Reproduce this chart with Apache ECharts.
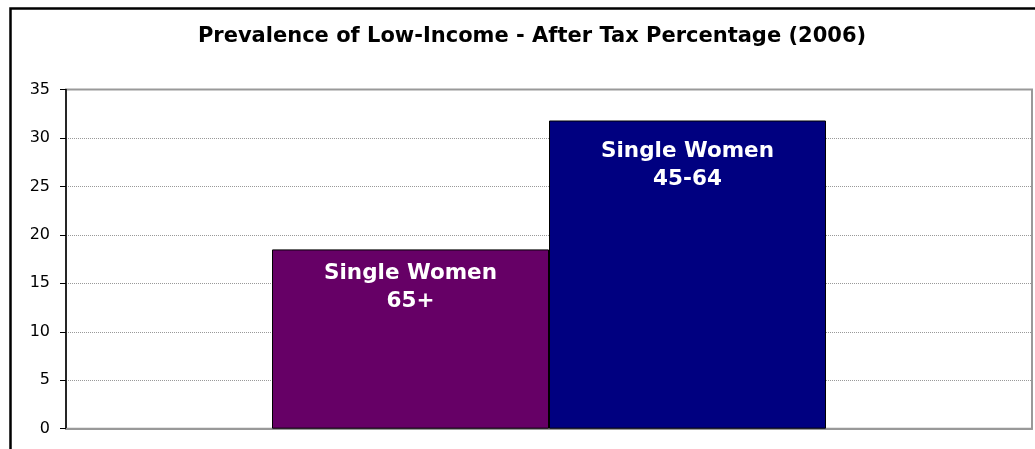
<!DOCTYPE html>
<html>
<head>
<meta charset="utf-8">
<script src="https://cdn.jsdelivr.net/npm/echarts@6/dist/echarts.min.js"></script>
<style>html,body{margin:0;padding:0;background:#fff;}#c{width:1035px;height:449px;}</style>
</head>
<body>
<div id="c"></div>
<script>
const titleText = 'Prevalence of Low-Income - After Tax Percentage (2006)';
const categories = [''];
const seriesNames = ['Single Women\n65+', 'Single Women\n45-64'];
const values65 = [18.5];
const values4564 = [31.8];
const yTicks = { min: 0, max: 35, interval: 5 };

const chart = echarts.init(document.getElementById('c'), null, { renderer: 'canvas' });
const labelBase = {
  show: true,
  position: 'insideTop',
  color: '#fff',
  fontFamily: 'DejaVu Sans',
  fontWeight: 'bold',
  fontSize: 21.5,
  lineHeight: 28,
  formatter: p => p.seriesName
};
chart.setOption({
  animation: false,
  backgroundColor: '#fff',
  title: {
    text: titleText,
    left: 527, top: 21, textAlign: 'center',
    textStyle: { fontFamily: 'DejaVu Sans', fontWeight: 'bold', fontSize: 21, color: '#000' }
  },
  graphic: [{
    type: 'rect', silent: true, z: -1,
    shape: { x: 10.5, y: 8.5, width: 1100, height: 500 },
    style: { fill: 'none', stroke: '#000', lineWidth: 2.5 }
  }],
  grid: { left: 66, top: 89.5, right: 3, bottom: 20.3, show: true, borderColor: '#999', borderWidth: 2, backgroundColor: 'transparent' },
  xAxis: {
    type: 'category', data: categories,
    axisLine: { show: true, lineStyle: { color: '#999', width: 2 } },
    axisTick: { show: false }, axisLabel: { show: false }
  },
  yAxis: {
    type: 'value', min: yTicks.min, max: yTicks.max, interval: yTicks.interval,
    axisLine: { show: true, lineStyle: { color: '#000', width: 1.5 } },
    axisTick: { show: true, length: 6, lineStyle: { color: '#000' } },
    axisLabel: { margin: 16, color: '#000', fontFamily: 'DejaVu Sans', fontSize: 16 },
    splitLine: { show: true, lineStyle: { color: '#999', type: 'dotted', width: 1 } }
  },
  series: [
    { name: seriesNames[0], type: 'bar', data: values65, barWidth: 277, barGap: '0%',
      itemStyle: { color: '#660066', borderColor: '#000', borderWidth: 1 },
      label: Object.assign({}, labelBase, { distance: 10 }) },
    { name: seriesNames[1], type: 'bar', data: values4564, barWidth: 277, barGap: '0%',
      itemStyle: { color: '#000080', borderColor: '#000', borderWidth: 1 },
      label: Object.assign({}, labelBase, { distance: 17 }) }
  ]
});
</script>
</body>
</html>
